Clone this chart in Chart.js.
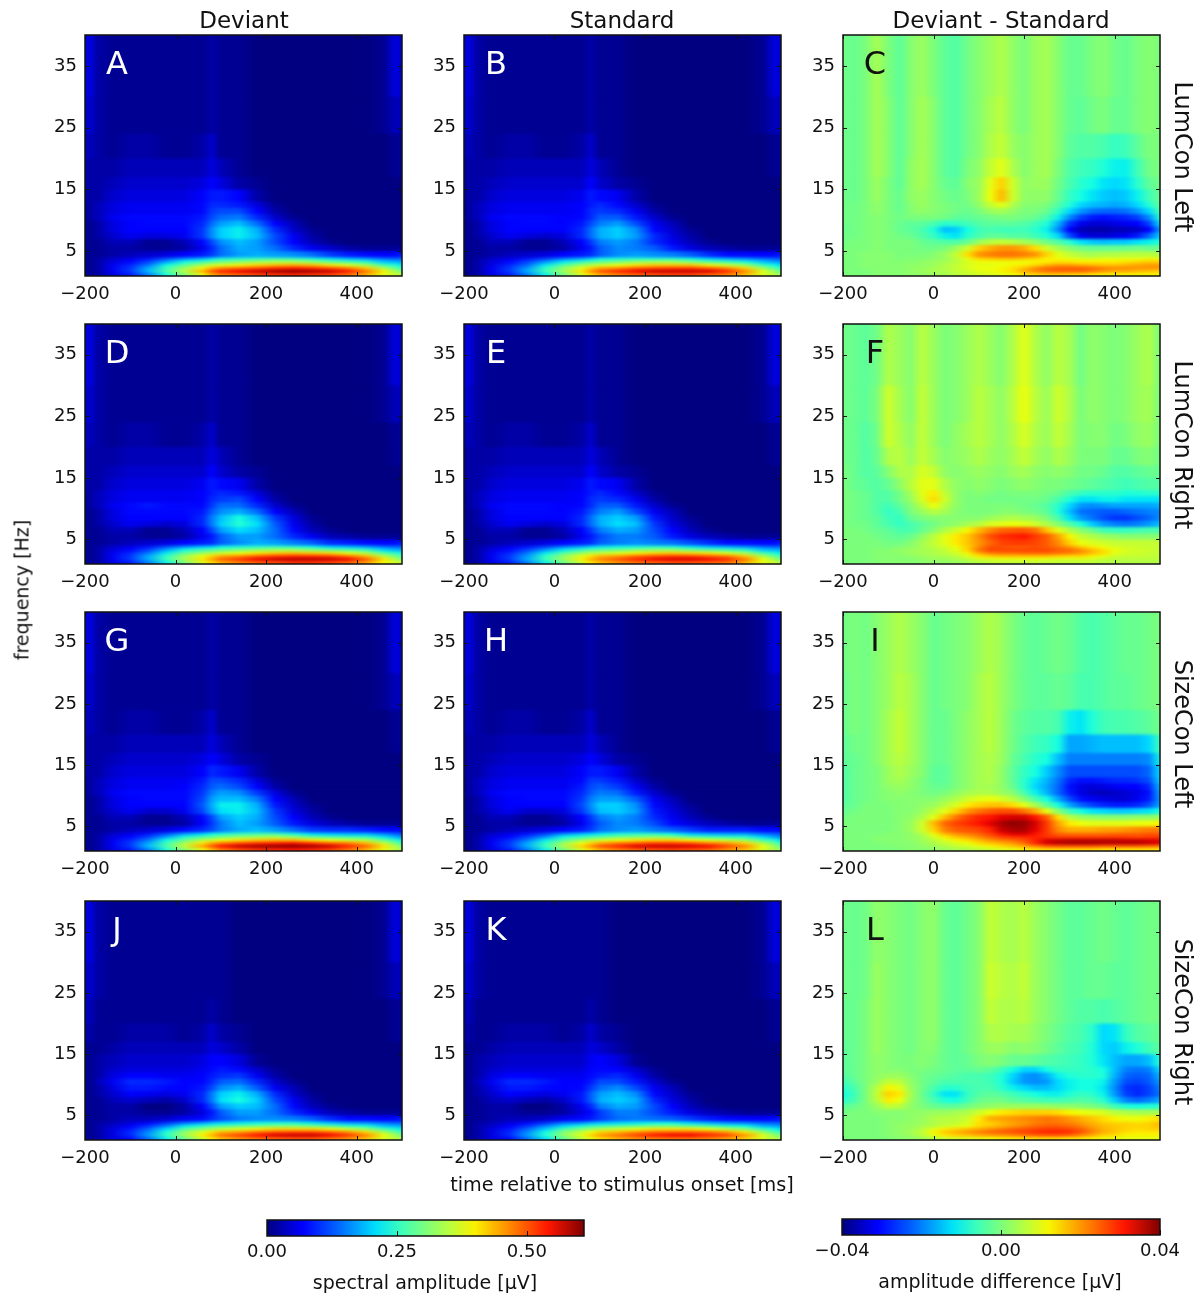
<!DOCTYPE html>
<html><head><meta charset="utf-8">
<script src="https://cdn.jsdelivr.net/npm/chart.js@4"></script>
<style>
html,body{margin:0;padding:0;background:#fff;}
#root{position:relative;width:1201px;height:1300px;overflow:hidden;font-family:"DejaVu Sans",sans-serif;color:#111;}
canvas{position:absolute;}
.t{position:absolute;white-space:nowrap;transform:translate(-50%,-50%);line-height:1;}
.r{transform:translate(-50%,-50%) rotate(-90deg);}
.rr{transform:translate(-50%,-50%) rotate(90deg);}
</style></head><body><div id="root"></div>
<script>
// frequency band edges in Hz (rows, low to high); the outer bands run past the axis limits
const freqEdges=[0.5,1.5,2,2.5,3,3.5,4,5,6,7,8,9,10,11,12,13,15,17,20,24,30,41];
const freqLimits=[1,40];
const freqTicks=[5,15,25,35];
const timeTicks=[-200,0,200,400];
const ampTicks=[0,0.25,0.5];
const diffTicks=[-0.04,0,0.04];
// sample times in ms
const ampTimes=[-200,-188,-172,-140,-100,-60,-20,20,60,80,100,140,180,220,260,300,340,380,420,460,485,500];
const diffTimes=[-200,-175,-150,-125,-100,-75,-50,-25,0,25,50,75,100,125,150,175,200,225,250,275,300,325,350,375,400,425,450,475,500];
const ampBarSamples=[0,0.07,0.14,0.21,0.26,0.3,0.35,0.4,0.47,0.54,0.61];
const diffBarSamples=[-0.04,-0.031,-0.022,-0.012,-0.006,0,0.006,0.012,0.022,0.031,0.04];
// spectral amplitude, units of 0.01 uV
const panelA=[
[1,1,2,5,9,15,23,31,39,44,47,49,51,52,53,52,51,48,44,38,36,35],
[1,1,2,6,11,19,27,35,44,50,53,55,57,59,60,59,57,54,48,40,34,30],
[1,1,2,6,11,18,26,33,40,44,47,49,51,53,54,53,51,48,43,34,29,26],
[1,1,2,6,10,15,23,29,34,37,38,40,42,44,45,44,41,38,34,27,24,22],
[1,1,2,5,8,12,18,23,27,29,30,32,34,35,35,33,30,28,25,20,19,18],
[1,1,2,4,6,9,13,17,20,22,24,25,26,27,26,24,22,20,18,15,14,14],
[1,1,1,2,3,4,5,7,9,11,14,17,18,17,16,14,11,9,8,7,8,9],
[1,1,1,2,2,1,1,2,6,10,14,18,17,14,10,6,4,2,1,1,1,1],
[1,1,1,3,3,1,1,3,8,12,16,19,17,12,7,3,1,0,0,0,0,0],
[1,1,2,4,6,5,5,6,11,16,20,22,19,12,6,2,0,0,0,0,0,0],
[1,1,2,5,7,7,7,7,11,16,20,22,18,10,4,1,0,0,0,0,0,0],
[1,1,2,5,7,8,8,8,10,14,17,19,14,7,3,0,0,0,0,0,0,0],
[1,2,3,6,8,8,8,8,9,12,14,15,10,4,1,0,0,0,0,0,0,0],
[1,2,3,5,6,6,6,6,8,11,12,12,7,2,0,0,0,0,0,0,0,0],
[1,2,3,5,6,6,6,6,8,10,10,9,5,1,0,0,0,0,0,0,0,0],
[2,2,2,4,5,5,5,5,7,9,9,7,2,0,0,0,0,0,0,0,0,0],
[2,2,2,3,4,4,4,4,5,7,5,2,1,0,0,0,0,0,0,0,0,0],
[2,2,2,2,3,3,3,3,3,5,3,1,0,0,0,0,0,0,0,0,1,1],
[3,3,2,1,2,2,1,1,2,4,1,1,0,0,0,0,0,0,0,0,1,1],
[4,4,2,1,1,1,1,1,1,2,1,1,0,0,0,0,0,0,0,1,3,3],
[5,5,2,1,1,1,1,1,1,2,1,1,0,0,0,0,0,0,0,1,5,4]];
const panelB=[
[1,1,2,5,9,15,22,30,37,41,44,47,49,50,51,51,49,47,43,37,35,33],
[1,1,2,6,11,18,26,33,41,46,50,53,55,57,57,57,56,53,47,38,33,29],
[1,1,2,6,11,17,25,32,38,42,45,47,50,51,52,52,50,47,42,33,28,25],
[1,1,2,5,10,14,22,28,33,35,37,39,41,43,43,43,40,37,33,26,23,21],
[1,1,2,5,8,12,17,22,26,28,29,31,33,34,34,32,29,27,24,20,18,17],
[1,1,2,4,6,9,12,16,19,21,23,24,25,25,25,23,21,19,17,15,14,13],
[1,1,1,2,3,4,5,7,9,10,13,16,17,16,15,13,10,8,8,7,8,9],
[1,1,1,2,2,1,1,2,6,9,13,16,15,13,9,5,3,2,1,1,1,1],
[1,1,1,3,3,1,1,3,7,11,15,17,15,10,6,3,1,0,0,0,0,0],
[1,1,2,4,6,5,4,5,10,14,18,20,17,10,5,2,0,0,0,0,0,0],
[1,1,2,5,7,7,7,7,10,14,18,20,16,8,4,1,0,0,0,0,0,0],
[1,1,2,5,7,8,8,7,9,12,15,17,12,6,3,0,0,0,0,0,0,0],
[1,2,3,6,8,8,8,7,8,10,13,13,9,4,1,0,0,0,0,0,0,0],
[1,2,3,5,6,6,6,6,7,10,11,10,6,2,0,0,0,0,0,0,0,0],
[1,2,3,5,6,6,6,6,7,9,10,8,4,1,0,0,0,0,0,0,0,0],
[2,2,2,4,5,5,5,5,6,9,8,6,2,0,0,0,0,0,0,0,0,0],
[2,2,2,3,4,4,4,4,4,7,4,2,1,0,0,0,0,0,0,0,0,0],
[2,2,2,2,3,3,3,3,3,5,3,1,0,0,0,0,0,0,0,0,1,1],
[3,3,2,1,2,2,1,1,2,4,1,1,0,0,0,0,0,0,0,0,1,1],
[4,4,2,1,1,1,1,1,1,2,1,1,0,0,0,0,0,0,0,1,3,3],
[5,5,2,1,1,1,1,1,1,2,1,1,0,0,0,0,0,0,0,1,5,4]];
const panelD=[
[1,1,2,5,9,15,22,30,37,41,44,47,49,50,52,52,51,49,45,39,37,36],
[1,1,2,6,11,18,26,34,41,45,49,52,55,57,58,58,57,55,50,41,35,31],
[1,1,2,6,11,18,25,33,39,42,45,47,50,52,53,53,52,49,44,35,30,27],
[1,1,2,6,10,15,22,29,33,35,37,39,41,43,44,43,42,39,35,28,25,23],
[1,1,2,5,8,12,18,23,27,28,29,31,33,34,34,32,30,28,26,21,19,18],
[1,1,2,4,6,9,13,17,20,21,23,24,25,26,25,23,21,20,18,15,14,14],
[1,1,1,2,3,4,5,7,9,10,13,16,18,17,15,13,10,9,8,7,8,9],
[1,1,1,2,2,1,1,2,6,9,13,17,17,14,10,6,3,2,1,1,1,1],
[1,1,1,3,3,1,1,3,7,12,17,21,19,14,8,3,1,0,0,0,0,0],
[1,1,2,4,6,5,4,5,10,15,20,24,21,13,6,2,0,0,0,0,0,0],
[1,1,2,5,7,7,7,7,10,15,19,23,19,11,5,1,0,0,0,0,0,0],
[1,1,2,5,8,8,8,8,9,13,16,18,14,7,3,0,0,0,0,0,0,0],
[1,2,3,6,8,9,8,8,8,11,14,14,10,4,1,0,0,0,0,0,0,0],
[1,2,3,5,6,6,6,6,7,10,11,12,7,2,0,0,0,0,0,0,0,0],
[1,2,3,5,6,6,6,6,7,9,10,9,5,1,0,0,0,0,0,0,0,0],
[2,2,2,4,5,5,5,5,6,9,8,6,2,0,0,0,0,0,0,0,0,0],
[2,2,2,3,4,4,4,4,4,7,4,2,1,0,0,0,0,0,0,0,0,0],
[2,2,2,2,3,3,3,3,3,5,3,1,0,0,0,0,0,0,0,0,1,1],
[3,3,2,1,2,2,1,1,2,4,1,1,0,0,0,0,0,0,0,0,1,1],
[4,4,2,1,1,1,1,1,1,2,1,1,0,0,0,0,0,0,0,1,3,3],
[5,5,2,1,1,1,1,1,1,2,1,1,0,0,0,0,0,0,0,1,5,4]];
const panelE=[
[1,1,2,5,9,15,22,29,36,40,43,46,48,49,50,50,49,48,44,38,36,35],
[1,1,2,6,11,18,26,33,40,44,47,50,53,55,56,56,55,53,48,39,34,30],
[1,1,2,6,11,17,25,32,38,41,44,46,49,51,52,52,50,48,43,34,29,26],
[1,1,2,6,10,15,22,28,33,35,36,38,40,42,43,42,41,38,34,27,24,22],
[1,1,2,5,8,12,17,22,26,28,29,30,32,33,33,31,29,27,25,20,19,18],
[1,1,2,4,6,9,12,16,19,21,22,23,24,25,24,22,20,19,17,15,14,14],
[1,1,1,2,3,4,5,7,9,10,13,15,16,15,14,12,10,8,8,7,8,9],
[1,1,1,2,2,1,1,2,6,9,12,15,15,13,9,5,3,2,1,1,1,1],
[1,1,1,3,3,1,1,3,7,11,15,18,17,12,7,3,1,0,0,0,0,0],
[1,1,2,4,6,5,4,5,10,14,18,21,19,11,5,2,0,0,0,0,0,0],
[1,1,2,5,7,7,7,7,10,14,18,20,17,9,4,1,0,0,0,0,0,0],
[1,1,2,5,8,8,8,7,9,12,15,17,12,6,3,0,0,0,0,0,0,0],
[1,2,3,6,8,8,8,7,8,10,13,13,9,4,1,0,0,0,0,0,0,0],
[1,2,3,5,6,6,6,6,7,10,11,10,6,2,0,0,0,0,0,0,0,0],
[1,2,3,5,6,6,6,6,7,9,10,8,4,1,0,0,0,0,0,0,0,0],
[2,2,2,4,5,5,5,5,6,9,8,6,2,0,0,0,0,0,0,0,0,0],
[2,2,2,3,4,4,4,4,4,7,4,2,1,0,0,0,0,0,0,0,0,0],
[2,2,2,2,3,3,3,3,3,5,3,1,0,0,0,0,0,0,0,0,1,1],
[3,3,2,1,2,2,1,1,2,4,1,1,0,0,0,0,0,0,0,0,1,1],
[4,4,2,1,1,1,1,1,1,2,1,1,0,0,0,0,0,0,0,1,3,3],
[5,5,2,1,1,1,1,1,1,2,1,1,0,0,0,0,0,0,0,1,5,4]];
const panelG=[
[1,1,2,5,9,15,23,31,39,43,47,50,52,53,54,53,51,48,44,38,35,34],
[1,1,2,6,11,19,27,36,45,50,54,57,59,60,60,59,57,53,49,41,35,30],
[1,1,2,6,11,18,26,34,41,45,48,51,53,54,55,53,50,48,44,36,30,26],
[1,1,2,6,10,15,23,29,35,37,39,41,43,44,44,41,39,37,35,29,25,22],
[1,1,2,5,8,12,18,24,28,29,31,33,34,35,33,30,28,27,26,22,19,17],
[1,1,2,4,6,9,13,18,21,23,24,26,27,27,24,21,20,19,19,16,14,13],
[1,1,1,2,3,4,5,8,10,12,15,18,19,17,14,11,10,10,9,8,8,8],
[1,1,1,2,2,1,1,2,7,11,15,19,17,13,9,5,3,2,1,1,1,1],
[1,1,1,3,3,1,1,3,8,12,17,20,18,12,7,3,1,0,0,0,0,0],
[1,1,2,4,6,4,4,6,12,17,21,22,19,11,5,2,0,0,0,0,0,0],
[1,1,2,5,7,7,7,7,13,18,22,22,18,9,4,1,0,0,0,0,0,0],
[1,1,2,5,7,8,8,8,12,17,19,19,15,7,3,0,0,0,0,0,0,0],
[1,2,3,6,8,8,8,8,11,15,17,16,11,5,1,0,0,0,0,0,0,0],
[1,2,3,5,6,6,6,7,10,13,14,12,7,2,0,0,0,0,0,0,0,0],
[1,2,3,5,6,6,6,6,9,12,12,10,5,1,0,0,0,0,0,0,0,0],
[2,2,2,4,5,5,5,5,7,10,9,6,2,0,0,0,0,0,0,0,0,0],
[2,2,2,3,4,4,4,4,5,7,5,2,1,0,0,0,0,0,0,0,0,0],
[2,2,2,2,3,3,3,3,3,5,3,1,0,0,0,0,0,0,0,0,1,1],
[3,3,2,1,2,2,1,1,2,4,1,1,0,0,0,0,0,0,0,0,1,1],
[4,4,2,1,1,1,1,1,1,2,1,1,0,0,0,0,0,0,0,1,3,3],
[5,5,2,1,1,1,1,1,1,2,1,1,0,0,0,0,0,0,0,1,5,4]];
const panelH=[
[1,1,2,5,9,15,22,30,37,41,44,47,49,50,51,50,49,46,43,37,34,33],
[1,1,2,6,11,18,26,34,42,46,50,53,56,57,57,56,55,51,47,39,33,29],
[1,1,2,6,11,18,25,33,39,42,45,48,50,52,52,51,48,46,42,34,29,25],
[1,1,2,6,10,15,22,28,33,35,37,39,41,42,42,40,38,36,33,27,24,21],
[1,1,2,5,8,12,17,23,26,28,29,31,32,33,32,29,27,26,25,21,18,16],
[1,1,2,4,6,9,12,17,20,21,22,24,25,25,23,20,19,18,18,15,14,13],
[1,1,1,2,3,4,5,7,9,11,14,16,17,15,13,11,9,9,9,8,8,8],
[1,1,1,2,2,1,1,2,6,10,13,16,15,12,8,5,3,2,1,1,1,1],
[1,1,1,3,3,1,1,3,7,11,15,17,15,10,6,3,1,0,0,0,0,0],
[1,1,2,4,6,4,4,5,11,15,19,20,17,9,5,2,0,0,0,0,0,0],
[1,1,2,5,7,7,7,7,12,16,20,20,16,8,4,1,0,0,0,0,0,0],
[1,1,2,5,7,8,8,8,11,15,17,17,13,6,3,0,0,0,0,0,0,0],
[1,2,3,6,8,8,8,8,10,13,15,14,9,4,1,0,0,0,0,0,0,0],
[1,2,3,5,6,6,6,6,9,12,13,11,6,2,0,0,0,0,0,0,0,0],
[1,2,3,5,6,6,6,6,8,11,11,9,4,1,0,0,0,0,0,0,0,0],
[2,2,2,4,5,5,5,5,7,9,9,6,2,0,0,0,0,0,0,0,0,0],
[2,2,2,3,4,4,4,4,5,7,5,2,1,0,0,0,0,0,0,0,0,0],
[2,2,2,2,3,3,3,3,3,5,3,1,0,0,0,0,0,0,0,0,1,1],
[3,3,2,1,2,2,1,1,2,4,1,1,0,0,0,0,0,0,0,0,1,1],
[4,4,2,1,1,1,1,1,1,2,1,1,0,0,0,0,0,0,0,1,3,3],
[5,5,2,1,1,1,1,1,1,2,1,1,0,0,0,0,0,0,0,1,5,4]];
const panelJ=[
[1,1,2,5,8,14,22,29,36,40,43,46,48,49,50,50,48,46,43,37,35,34],
[1,1,2,5,10,17,25,33,40,44,48,51,54,56,57,57,55,52,47,39,34,30],
[1,1,2,5,10,16,24,32,38,41,44,46,49,51,52,52,50,47,42,34,29,26],
[1,1,2,5,9,14,21,28,32,34,36,38,40,42,42,42,40,37,33,27,24,22],
[1,1,2,4,7,11,16,22,25,27,28,30,31,32,32,31,29,26,24,20,19,18],
[1,1,2,3,5,8,11,15,18,20,21,22,23,24,24,22,20,18,17,15,14,14],
[1,1,1,2,3,3,4,6,8,10,12,15,16,16,15,13,10,8,8,7,8,9],
[1,1,1,2,2,1,1,2,5,9,13,17,17,14,10,6,3,2,1,1,1,1],
[1,1,1,2,2,0,0,2,7,12,17,20,19,14,8,3,1,0,0,0,0,0],
[1,1,1,3,4,3,2,4,10,15,21,23,20,12,6,2,0,0,0,0,0,0],
[1,1,2,4,7,6,5,6,10,15,20,22,18,10,4,1,0,0,0,0,0,0],
[1,1,2,5,9,9,8,7,9,12,16,18,13,6,3,0,0,0,0,0,0,0],
[1,1,3,6,10,10,9,7,8,10,13,14,10,4,1,0,0,0,0,0,0,0],
[1,1,2,5,7,7,6,6,7,9,10,11,6,2,0,0,0,0,0,0,0,0],
[1,1,2,4,5,5,5,5,6,8,9,8,4,1,0,0,0,0,0,0,0,0],
[1,1,2,3,4,4,4,4,5,7,7,5,1,0,0,0,0,0,0,0,0,0],
[1,1,1,2,3,3,3,3,3,5,4,2,0,0,0,0,0,0,0,0,0,0],
[2,2,1,1,2,2,2,1,2,4,2,1,0,0,0,0,0,0,0,0,1,1],
[3,3,1,1,1,1,1,1,1,2,1,0,0,0,0,0,0,0,0,0,1,1],
[4,4,2,1,1,1,1,1,1,1,1,0,0,0,0,0,0,0,0,1,3,3],
[5,5,2,1,1,1,1,1,1,1,1,0,0,0,0,0,0,0,0,1,5,4]];
const panelK=[
[1,1,2,5,8,14,21,28,35,38,41,44,46,47,48,48,47,45,42,37,35,34],
[1,1,2,5,10,17,24,32,38,42,45,48,51,54,55,55,53,51,46,38,33,30],
[1,1,2,5,10,16,23,31,36,39,42,44,47,49,50,50,49,46,41,33,28,26],
[1,1,2,5,9,14,20,27,31,33,35,37,39,41,41,41,39,36,32,26,23,21],
[1,1,2,4,7,11,16,21,24,26,27,29,30,31,31,30,28,25,23,19,18,17],
[1,1,2,3,5,8,11,15,17,19,20,21,22,23,23,21,19,17,16,14,14,13],
[1,1,1,2,3,3,4,6,8,9,11,14,15,14,13,11,9,8,7,7,8,9],
[1,1,1,2,2,1,1,2,5,8,11,15,15,12,9,5,3,2,1,1,1,1],
[1,1,1,2,2,0,0,2,6,10,15,18,17,12,7,3,1,0,0,0,0,0],
[1,1,1,3,4,3,2,4,9,13,18,20,18,10,5,2,0,0,0,0,0,0],
[1,1,2,4,7,6,5,6,9,13,17,19,16,8,4,1,0,0,0,0,0,0],
[1,1,2,5,9,9,8,7,8,11,14,16,12,6,3,0,0,0,0,0,0,0],
[1,1,3,6,10,10,9,7,7,9,12,12,9,4,1,0,0,0,0,0,0,0],
[1,1,2,5,7,7,6,6,6,8,9,10,6,2,0,0,0,0,0,0,0,0],
[1,1,2,4,5,5,5,5,5,7,8,7,4,1,0,0,0,0,0,0,0,0],
[1,1,2,3,4,4,4,4,4,6,7,5,1,0,0,0,0,0,0,0,0,0],
[1,1,1,2,3,3,3,3,3,5,4,2,0,0,0,0,0,0,0,0,0,0],
[2,2,1,1,2,2,2,1,2,4,2,1,0,0,0,0,0,0,0,0,1,1],
[3,3,1,1,1,1,1,1,1,2,1,0,0,0,0,0,0,0,0,0,1,1],
[4,4,2,1,1,1,1,1,1,1,1,0,0,0,0,0,0,0,0,1,3,3],
[5,5,2,1,1,1,1,1,1,1,1,0,0,0,0,0,0,0,0,1,5,4]];
// amplitude difference, units of 0.001 uV
const panelC=[
[0,0,0,1,1,1,2,2,3,4,6,7,8,9,10,11,13,14,15,15,14,14,13,12,12,12,12,12,12],
[0,0,0,1,1,1,2,3,4,5,7,8,10,11,12,14,18,21,23,24,24,24,22,20,18,18,17,16,15],
[0,0,1,1,1,1,2,3,4,5,7,9,11,11,12,14,17,21,24,25,25,25,24,22,21,21,20,20,20],
[0,0,1,1,1,1,2,2,3,5,7,9,10,10,11,12,13,15,18,20,20,19,18,17,17,18,19,20,20],
[0,0,1,1,1,1,1,2,3,4,6,9,11,11,11,11,11,12,13,14,14,13,13,13,13,14,15,16,16],
[0,0,1,1,1,0,1,1,2,3,6,10,14,15,16,16,15,14,12,12,11,10,10,11,11,11,11,12,12],
[0,0,1,1,1,0,0,0,1,3,7,14,20,22,23,23,22,20,15,10,7,5,4,5,5,6,6,6,5],
[0,0,0,1,0,0,0,-1,-1,0,3,8,15,18,20,20,18,14,8,4,1,-1,-2,-2,-2,-2,-1,-2,-2],
[-1,0,0,1,0,0,0,-2,-3,-4,-4,-2,3,6,7,6,4,2,-1,-4,-8,-12,-14,-15,-14,-14,-12,-11,-9],
[-1,-1,0,1,0,-1,-2,-4,-7,-11,-12,-8,-5,-3,-3,-4,-4,-6,-9,-13,-24,-32,-34,-34,-33,-32,-28,-22,-14],
[-2,-1,0,1,0,-2,-3,-5,-9,-15,-14,-10,-6,-5,-6,-6,-6,-8,-11,-19,-30,-36,-37,-37,-36,-36,-35,-30,-18],
[-1,-1,0,1,0,-2,-3,-3,-5,-8,-7,-6,-4,-3,-3,-3,-4,-6,-9,-16,-26,-32,-34,-34,-33,-32,-30,-25,-13],
[-1,-1,0,1,0,-1,0,0,0,-1,-3,-3,-2,-1,0,0,-1,-2,-5,-11,-19,-25,-28,-29,-28,-27,-25,-19,-9],
[-1,-1,0,2,0,-2,1,2,1,0,-1,-2,0,3,4,2,0,0,-2,-7,-13,-18,-21,-22,-22,-21,-18,-13,-5],
[-1,-1,0,2,0,-2,1,3,1,0,-1,-1,2,7,10,5,1,1,0,-4,-9,-13,-15,-16,-17,-16,-13,-9,-3],
[-1,-2,0,3,0,-2,2,3,1,-1,-2,0,3,11,17,8,2,2,2,-2,-7,-10,-12,-14,-15,-14,-11,-6,-2],
[-1,-2,0,3,0,-3,2,4,1,-2,-3,1,3,10,15,8,2,3,3,-1,-5,-8,-10,-12,-13,-12,-8,-3,-1],
[-1,-2,0,4,1,-3,2,4,1,-3,-4,0,2,7,10,5,1,3,4,0,-4,-6,-7,-9,-11,-11,-6,-1,0],
[-1,-2,0,4,1,-3,1,4,1,-3,-4,-1,1,5,7,3,1,3,4,1,-3,-4,-4,-5,-7,-6,-3,0,0],
[-1,-2,0,4,1,-3,1,4,1,-3,-4,-1,1,4,6,2,0,3,4,1,-2,-3,-1,0,-2,-2,0,1,0],
[-1,-2,0,4,0,-3,1,3,0,-3,-4,-1,1,3,5,2,0,3,4,1,-2,-2,0,1,-1,-2,0,1,0]];
const panelF=[
[0,0,0,0,1,1,1,1,2,2,3,4,5,6,6,6,6,6,6,6,6,6,6,5,5,5,5,5,5],
[0,0,0,1,1,1,1,2,3,3,4,6,8,9,10,10,10,10,10,9,9,9,8,7,6,6,6,6,6],
[0,0,0,1,1,1,2,3,4,5,6,9,13,15,16,16,16,16,16,15,14,14,12,10,8,7,7,7,7],
[0,0,0,1,1,2,3,4,5,6,8,12,18,22,23,23,24,24,24,23,22,20,17,14,10,8,8,7,7],
[0,0,0,1,1,2,3,4,5,7,10,15,23,27,27,27,27,27,27,25,24,21,17,14,11,9,8,8,7],
[0,0,0,0,0,1,2,4,6,8,11,15,21,26,26,25,25,26,25,23,20,16,13,11,9,8,8,7,7],
[0,0,0,0,-1,-1,1,4,7,10,13,16,20,24,27,28,28,27,25,21,15,11,9,8,7,7,7,7,7],
[0,0,0,-1,-2,-3,-2,2,6,10,13,16,21,26,29,30,31,28,25,19,12,7,5,3,2,1,1,1,1],
[0,0,-1,-2,-3,-5,-5,-2,1,5,8,12,17,21,24,25,25,23,16,10,5,1,-2,-6,-7,-7,-6,-5,-5],
[0,-1,-1,-3,-5,-7,-5,-3,-1,1,2,4,6,9,10,11,10,8,5,1,-4,-9,-14,-18,-20,-21,-20,-18,-15],
[0,-1,-2,-3,-6,-7,-2,0,1,1,1,1,1,3,4,5,4,3,0,-5,-12,-18,-21,-24,-26,-26,-24,-22,-19],
[0,-1,-2,-4,-7,-5,0,3,6,4,1,0,0,0,1,1,0,-1,-3,-9,-15,-21,-22,-23,-23,-22,-21,-20,-19],
[0,-1,-2,-4,-6,-3,1,6,11,6,2,0,0,0,0,0,-1,-2,-4,-8,-13,-18,-19,-18,-17,-17,-17,-17,-16],
[0,-1,-2,-4,-4,-1,3,9,14,8,2,0,0,-1,-1,-1,-1,-1,-2,-5,-9,-12,-12,-11,-11,-12,-12,-12,-12],
[0,-1,-2,-4,-4,-1,4,10,13,7,2,0,1,0,-1,0,0,0,-1,-2,-5,-7,-8,-8,-8,-9,-9,-8,-8],
[0,-2,-3,-4,-2,2,6,10,10,5,2,1,2,1,0,1,2,1,0,0,-1,-2,-3,-4,-5,-6,-5,-4,-4],
[0,-2,-4,-3,1,5,5,9,7,2,1,2,3,2,1,3,4,2,1,2,1,-1,-1,-2,-4,-4,-3,-2,-2],
[-1,-2,-4,-2,5,6,3,7,4,1,2,3,5,3,2,4,7,4,2,5,3,0,0,0,-2,-2,0,1,-1],
[-1,-2,-4,-1,8,5,2,7,3,0,2,4,6,4,2,5,9,5,3,7,4,0,1,1,-1,0,2,3,0],
[-1,-2,-3,0,8,4,1,7,3,0,1,3,6,4,2,6,11,6,3,8,5,0,2,1,0,1,3,4,0],
[-1,-2,-3,-1,5,3,1,6,3,0,1,3,5,3,1,5,10,5,2,6,4,-1,2,1,0,1,3,5,0]];
const panelI=[
[0,0,0,0,0,0,1,1,2,3,4,5,6,7,9,10,12,13,14,14,14,14,14,13,13,13,13,13,13],
[0,0,0,0,0,1,1,2,3,5,7,8,10,12,14,16,18,21,24,25,25,25,25,24,24,24,24,23,22],
[0,0,0,0,1,1,1,3,5,7,9,11,14,16,18,20,24,30,34,36,37,37,37,36,36,36,36,35,33],
[0,0,0,1,1,1,2,3,6,9,12,14,17,20,22,24,26,30,34,35,36,36,36,36,36,35,35,34,33],
[0,0,0,1,1,1,2,4,8,12,16,18,21,24,27,28,29,30,29,28,28,28,28,28,28,28,27,28,28],
[0,0,0,0,1,1,2,5,11,17,20,22,24,27,31,33,33,31,28,25,24,24,24,24,25,25,25,26,26],
[0,0,0,0,0,1,3,8,15,22,25,26,27,30,35,37,37,33,28,21,18,18,18,19,19,20,21,22,22],
[0,0,0,0,0,1,3,8,17,24,27,29,31,33,37,39,38,34,28,19,13,11,10,10,10,10,11,11,12],
[-1,0,0,0,0,1,2,5,10,17,23,27,30,31,33,34,34,31,25,14,6,3,2,1,1,1,2,2,3],
[-2,-1,0,0,0,1,1,3,6,10,15,20,23,25,26,26,23,18,10,1,-6,-10,-12,-13,-14,-14,-13,-12,-10],
[-3,-2,0,0,0,1,1,2,3,6,9,13,15,16,16,14,10,4,-3,-10,-17,-22,-25,-27,-28,-28,-27,-24,-17],
[-4,-2,-1,0,1,1,1,1,1,3,5,8,10,11,9,6,1,-5,-10,-17,-24,-29,-32,-33,-34,-34,-32,-28,-18],
[-4,-2,-1,0,1,2,1,0,-1,0,2,4,5,5,3,1,-5,-11,-16,-22,-28,-33,-35,-36,-35,-34,-33,-29,-17],
[-4,-2,-1,0,2,3,2,0,-2,-2,0,2,4,4,2,-2,-8,-13,-17,-22,-29,-33,-34,-33,-32,-31,-30,-27,-16],
[-4,-2,-1,0,3,4,2,0,-3,-3,0,2,4,5,2,-3,-8,-12,-16,-21,-27,-29,-29,-28,-27,-27,-26,-24,-14],
[-4,-2,-1,0,3,5,3,1,-3,-3,0,2,4,5,2,-3,-7,-10,-14,-19,-24,-24,-24,-24,-24,-24,-24,-22,-13],
[-3,-2,-1,1,4,6,4,1,-2,-2,0,2,4,5,3,-2,-5,-8,-10,-15,-20,-20,-20,-20,-20,-20,-20,-19,-11],
[-3,-1,-1,1,4,7,4,1,-2,-2,0,2,4,6,3,-1,-4,-6,-7,-10,-17,-17,-16,-15,-15,-15,-15,-13,-6],
[-2,0,-1,1,4,7,4,1,-2,-2,0,2,4,6,3,-1,-3,-4,-4,-5,-11,-12,-9,-6,-5,-5,-4,-3,-1],
[-2,0,-1,1,3,6,4,1,-2,-1,0,1,4,6,3,0,-2,-3,-3,-2,-3,-5,-5,-4,-3,-3,-2,-1,0],
[-1,0,-1,1,3,5,3,1,-2,-1,0,1,3,5,3,0,-2,-3,-2,-1,-2,-4,-5,-4,-3,-2,-2,-1,0]];
const panelL=[
[0,0,0,0,0,1,2,3,5,7,8,9,10,11,12,13,13,14,14,14,13,13,12,11,10,10,10,10,10],
[0,0,0,0,1,2,3,6,10,13,15,16,18,19,20,21,23,24,25,25,24,21,18,15,14,12,12,12,12],
[0,0,0,0,1,2,4,7,12,16,18,20,22,24,25,26,27,29,30,30,29,26,22,18,16,14,13,13,13],
[0,0,0,0,1,2,3,6,10,13,15,17,19,21,23,25,26,27,28,28,27,25,21,18,16,15,14,15,15],
[0,0,0,0,1,2,3,4,6,8,9,11,14,16,18,20,22,24,25,25,24,22,19,17,16,15,15,15,17],
[0,0,0,0,1,2,2,3,5,6,7,9,14,15,17,19,20,22,23,23,22,20,18,16,15,15,14,15,17],
[0,0,0,0,1,1,2,3,5,6,6,8,13,18,19,20,21,22,23,22,20,18,16,14,12,11,11,12,14],
[-1,0,0,1,1,1,2,2,3,3,4,5,8,11,13,14,15,15,15,14,12,11,10,9,6,5,4,4,4],
[-3,-2,0,3,7,6,2,0,-2,-3,-3,-1,1,2,3,3,3,3,3,2,2,1,0,-2,-6,-9,-10,-9,-8],
[-8,-5,0,6,13,11,3,-1,-5,-9,-10,-6,-2,-1,-1,-3,-4,-5,-6,-6,-5,-4,-5,-8,-14,-20,-22,-20,-17],
[-10,-6,0,7,15,13,4,-2,-7,-12,-12,-7,-4,-3,-4,-6,-8,-10,-11,-11,-9,-7,-8,-11,-18,-25,-27,-25,-21],
[-8,-5,0,6,12,10,3,-1,-5,-8,-8,-6,-5,-5,-8,-11,-13,-15,-15,-13,-11,-10,-10,-12,-19,-26,-27,-25,-20],
[-6,-3,0,3,7,6,2,-1,-3,-5,-5,-5,-5,-6,-9,-14,-18,-19,-18,-13,-11,-10,-10,-11,-18,-24,-25,-23,-18],
[-4,-2,0,2,3,3,1,-1,-2,-3,-4,-5,-5,-6,-9,-13,-18,-19,-16,-11,-9,-8,-8,-9,-16,-22,-23,-22,-16],
[-3,-2,0,2,1,1,0,0,-1,-2,-3,-3,-2,-3,-6,-10,-13,-13,-10,-7,-7,-7,-8,-10,-15,-20,-21,-20,-13],
[-3,-2,0,2,1,0,0,1,0,-2,-3,-2,0,1,0,-2,-2,-3,-4,-5,-6,-7,-9,-12,-15,-17,-17,-15,-9],
[-3,-2,0,3,1,0,-1,1,1,-2,-3,-1,1,3,3,1,2,1,-1,-3,-5,-6,-9,-13,-14,-11,-9,-6,-3],
[-2,-2,0,3,1,0,-1,1,2,-2,-3,-1,1,5,5,4,4,2,0,-2,-4,-5,-8,-13,-12,-7,-4,-3,-2],
[-2,-2,0,3,1,0,-1,1,2,-2,-3,-1,1,7,5,5,6,3,1,-1,-3,-4,-4,-5,-4,-3,-2,-1,-1],
[-1,-2,-1,3,1,0,-1,1,2,-2,-3,-1,1,8,6,5,7,3,1,-1,-3,-3,-2,-2,-3,-3,-2,-1,-1],
[-1,-2,-1,2,1,0,-1,1,2,-2,-3,-1,1,7,5,4,6,3,1,-1,-3,-3,-2,-1,-2,-3,-2,-1,-1]];

const ampRange=[0,0.61], diffRange=[-0.04,0.04];
function jet(t){
  t=Math.max(0,Math.min(1,t));
  const f=(pts)=>{for(let i=1;i<pts.length;i++){if(t<=pts[i][0]){const a=pts[i-1],b=pts[i];return a[1]+(b[1]-a[1])*(t-a[0])/(b[0]-a[0]);}}return pts[pts.length-1][1];};
  const r=f([[0,0],[.35,0],[.66,1],[.89,1],[1,.5]]);
  const g=f([[0,0],[.125,0],[.375,1],[.64,1],[.91,0],[1,0]]);
  const b=f([[0,.5],[.11,1],[.34,1],[.65,0],[1,0]]);
  return `rgb(${Math.round(r*255)},${Math.round(g*255)},${Math.round(b*255)})`;
}
const root=document.getElementById('root');
const FONT='"DejaVu Sans"';
const fmtMinus=s=>String(s).replace('-','\u2212');

const softPlugin={id:'soft',
  beforeDatasetsDraw(c,_,o){if(o.px){c.ctx.save();c.ctx.filter=`blur(${o.px}px)`;}},
  afterDatasetsDraw(c,_,o){if(o.px){c.ctx.restore();}}};
const framePlugin={id:'frame',afterDatasetsDraw(c,_,o){
  const a=c.chartArea,ctx=c.ctx;ctx.save();ctx.strokeStyle='#111';ctx.lineWidth=1;
  ctx.beginPath();
  const L=o.len;
  c.scales.x.ticks.forEach((t)=>{const x=Math.round(c.scales.x.getPixelForValue(t.value))+.5;
    ctx.moveTo(x,a.bottom);ctx.lineTo(x,a.bottom-L);
    if(o.all){ctx.moveTo(x,a.top);ctx.lineTo(x,a.top+L);}});
  if(o.all)c.scales.y.ticks.forEach((t)=>{const y=Math.round(c.scales.y.getPixelForValue(t.value))+.5;
    ctx.moveTo(a.left,y);ctx.lineTo(a.left+L,y);ctx.moveTo(a.right,y);ctx.lineTo(a.right-L,y);});
  ctx.stroke();
  ctx.lineWidth=1.5;ctx.strokeRect(a.left,a.top,a.right-a.left,a.bottom-a.top);
  ctx.restore();
}};
const noPad=s=>{s.paddingLeft=s.paddingRight=s.paddingTop=s.paddingBottom=0;};

function heat(rect,rows,times,edges,yLimits,toUnit,range,xTicks,yTicks,xFmt,isBar){
  const ml=isBar?40:60,mr=isBar?40:10,mt=6,mb=isBar?36:34;
  const cv=document.createElement('canvas');
  const w=rect.w+ml+mr,h=rect.h+mt+mb;
  cv.width=w;cv.height=h;cv.style.left=(rect.x-ml)+'px';cv.style.top=(rect.y-mt)+'px';cv.style.width=w+'px';cv.style.height=h+'px';
  root.appendChild(cv);
  const mid=(times[0]+times[times.length-1])/2;
  const cache={};
  const fill=(ctx)=>{
    const i=ctx.dataIndex;if(i===undefined)return '#000';
    if(cache[i])return cache[i];
    const sx=ctx.chart.scales.x;
    const x0=sx.getPixelForValue(times[0]),x1=sx.getPixelForValue(times[times.length-1]);
    if(!isFinite(x0)||!isFinite(x1)||x1<=x0)return '#000';
    const g=ctx.chart.ctx.createLinearGradient(x0,0,x1,0);
    rows[i].forEach((v,k)=>{const off=(times[k]-times[0])/(times[times.length-1]-times[0]);
      g.addColorStop(off,jet((toUnit(v)-range[0])/(range[1]-range[0])));});
    cache[i]=g;return g;
  };
  // each band runs under the next bands, which are painted over it, so the soft edges leave no seams
  const top=i=>edges[Math.min(i+3,edges.length-1)];
  new Chart(cv,{type:'bar',
    data:{datasets:[{data:rows.map((r,i)=>({x:mid,y:[edges[i],top(i)]})),backgroundColor:fill,barThickness:rect.w+20,borderWidth:0,inflateAmount:0}]},
    plugins:[softPlugin,framePlugin],
    options:{responsive:false,animation:false,events:[],devicePixelRatio:1,
      layout:{autoPadding:false,padding:{left:0,right:mr,top:mt,bottom:0}},
      plugins:{legend:{display:false},tooltip:{enabled:false},frame:{len:isBar?5:4,all:!isBar},soft:{px:isBar?0:1.6}},
      scales:{
        x:{type:'linear',offset:false,min:times[0],max:times[times.length-1],grid:{display:false,offset:false,drawTicks:false},border:{display:false},
          afterBuildTicks:s=>{s.ticks=xTicks.map(v=>({value:v}));},
          afterFit:s=>{s.height=mb;noPad(s);},
          ticks:{autoSkip:false,maxRotation:0,minRotation:0,padding:isBar?6:8,color:'#111',font:{family:FONT,size:18},callback:xFmt}},
        y:{type:'linear',display:!isBar,min:yLimits[0],max:yLimits[1],grid:{display:false,drawTicks:false},border:{display:false},
          afterBuildTicks:s=>{s.ticks=yTicks.map(v=>({value:v}));},
          afterFit:s=>{s.width=ml;noPad(s);},
          ticks:{autoSkip:false,padding:8,color:'#111',font:{family:FONT,size:18}}}
      }}});
}
function text(s,x,y,size,cls,color){
  const d=document.createElement('div');d.className='t '+(cls||'');d.textContent=s;
  d.style.left=x+'px';d.style.top=y+'px';d.style.fontSize=size+'px';if(color)d.style.color=color;root.appendChild(d);
}
const colX=[85,464,843],W=317;
const rowY=[[35,241],[324,240],[612,239],[901,239]];
const panels=[[panelA,panelB,panelC],[panelD,panelE,panelF],[panelG,panelH,panelI],[panelJ,panelK,panelL]];
const letters=[['A','B','C'],['D','E','F'],['G','H','I'],['J','K','L']];
const timeFmt=v=>fmtMinus(v);
panels.forEach((row,r)=>row.forEach((m,c)=>{
  const rect={x:colX[c],y:rowY[r][0],w:W,h:rowY[r][1]};
  if(c<2)heat(rect,m,ampTimes,freqEdges,freqLimits,v=>v/100,ampRange,timeTicks,freqTicks,timeFmt,false);
  else heat(rect,m,diffTimes,freqEdges,freqLimits,v=>v/1000,diffRange,timeTicks,freqTicks,timeFmt,false);
  text(letters[r][c],colX[c]+32,rowY[r][0]+28,32,'',c<2?'#fff':'#111');
}));
heat({x:267,y:1220,w:317,h:16},[ampBarSamples],ampBarSamples,[0,1],[0,1],v=>v,ampRange,ampTicks,[],v=>v.toFixed(2),true);
heat({x:842,y:1219,w:318,h:16},[diffBarSamples],diffBarSamples,[0,1],[0,1],v=>v,diffRange,diffTicks,[],v=>fmtMinus(v.toFixed(2)),true);
text('Deviant',244,20,23);text('Standard',622,20,23);text('Deviant - Standard',1001,20,23);
text('time relative to stimulus onset [ms]',622,1185,19.2);
text('frequency [Hz]',22,590,19,'r');
text('spectral amplitude [\u00b5V]',425,1282,19);
text('amplitude difference [\u00b5V]',1000,1281,19);
text('LumCon Left',1183,157,24,'rr');
text('LumCon Right',1183,445,24,'rr');
text('SizeCon Left',1183,734,24,'rr');
text('SizeCon Right',1183,1022,24,'rr');
</script></body></html>
